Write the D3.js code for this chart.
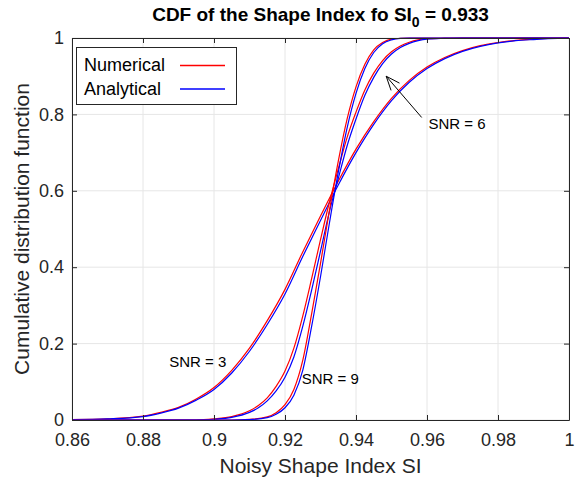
<!DOCTYPE html>
<html>
<head>
<meta charset="utf-8">
<script src="https://d3js.org/d3.v7.min.js"></script>
<style>
  body { margin: 0; background: #fff; }
  svg { display: block; }
  text { font-family: "Liberation Sans", Arial, Helvetica, sans-serif; }
</style>
</head>
<body>
<svg id="chart" width="579" height="478"></svg>
<script>
// Noisy shape index grid and CDF values for each SNR level
const siSNR3 = [0.86, 0.87, 0.88, 0.885, 0.89, 0.895, 0.90, 0.905, 0.91, 0.915, 0.92, 0.925, 0.93, 0.935,
                0.94, 0.945, 0.95, 0.955, 0.96, 0.965, 0.97, 0.975, 0.98, 0.985, 0.99, 1.0];
const analyticalSNR3 = [0.001, 0.003, 0.009, 0.018, 0.031, 0.052, 0.080, 0.123, 0.180, 0.250, 0.330, 0.428, 0.522, 0.615,
                        0.700, 0.774, 0.836, 0.884, 0.920, 0.946, 0.965, 0.978, 0.987, 0.993, 0.996, 1.0];
const numericalSNR3 = [0.001, 0.003, 0.010, 0.020, 0.033, 0.055, 0.085, 0.130, 0.188, 0.260, 0.342, 0.440, 0.534, 0.625,
                       0.709, 0.781, 0.842, 0.889, 0.924, 0.949, 0.967, 0.980, 0.988, 0.994, 0.997, 1.0];

const siSNR6 = [0.86, 0.895, 0.90, 0.905, 0.91, 0.9125, 0.915, 0.9175, 0.92, 0.9225, 0.925, 0.9275, 0.93, 0.9325,
                0.935, 0.9375, 0.94, 0.9425, 0.945, 0.9475, 0.95, 0.9525, 0.955, 0.9575, 0.96, 0.965, 0.97, 1.0];
const analyticalSNR6 = [0.0, 0.0, 0.002, 0.007, 0.020, 0.032, 0.050, 0.076, 0.112, 0.165, 0.245, 0.340, 0.442, 0.545,
                        0.632, 0.718, 0.788, 0.850, 0.897, 0.933, 0.958, 0.975, 0.986, 0.993, 0.997, 0.999, 1.0, 1.0];
const numericalSNR6 = [0.0, 0.0, 0.003, 0.009, 0.024, 0.038, 0.058, 0.088, 0.128, 0.188, 0.272, 0.370, 0.472, 0.570,
                       0.657, 0.740, 0.806, 0.864, 0.908, 0.941, 0.964, 0.979, 0.989, 0.995, 0.998, 0.999, 1.0, 1.0];

const siSNR9 = [0.86, 0.905, 0.91, 0.915, 0.9175, 0.92, 0.9225, 0.925, 0.9275, 0.93, 0.9325, 0.935, 0.9375,
                0.94, 0.9425, 0.945, 0.9475, 0.95, 0.9525, 0.955, 1.0];
const analyticalSNR9 = [0.0, 0.0, 0.001, 0.006, 0.015, 0.032, 0.065, 0.130, 0.245, 0.375, 0.515, 0.648, 0.765,
                        0.855, 0.920, 0.962, 0.985, 0.995, 0.999, 1.0, 1.0];
const numericalSNR9 = [0.0, 0.0, 0.0015, 0.008, 0.019, 0.040, 0.080, 0.156, 0.278, 0.410, 0.548, 0.677, 0.788,
                       0.872, 0.931, 0.969, 0.988, 0.997, 0.999, 1.0, 1.0];

const xTicks = [0.86, 0.88, 0.90, 0.92, 0.94, 0.96, 0.98, 1.0];
const xTickLabels = ["0.86", "0.88", "0.9", "0.92", "0.94", "0.96", "0.98", "1"];
const yTicks = [0, 0.2, 0.4, 0.6, 0.8, 1.0];
const yTickLabels = ["0", "0.2", "0.4", "0.6", "0.8", "1"];

const legendLabels = ["Numerical", "Analytical"];
const seriesColors = ["#ff0000", "#0000ff"];

const svg = d3.select("#chart");
const margin = { left: 72, right: 10, top: 38, bottom: 58 };
const W = 579, H = 478;
const innerW = W - margin.left - margin.right;
const innerH = H - margin.top - margin.bottom;

const x = d3.scaleLinear().domain([0.86, 1.0]).range([margin.left, margin.left + innerW]);
const y = d3.scaleLinear().domain([0, 1]).range([margin.top + innerH, margin.top]);

const axisColor = "#262626";
const gridColor = "#e6e6e6";

// grid
const grid = svg.append("g");
grid.selectAll("line.gx").data(xTicks).join("line")
  .attr("x1", d => x(d)).attr("x2", d => x(d))
  .attr("y1", y(0)).attr("y2", y(1))
  .attr("stroke", gridColor).attr("stroke-width", 1);
grid.selectAll("line.gy").data(yTicks).join("line")
  .attr("y1", d => y(d)).attr("y2", d => y(d))
  .attr("x1", x(0.86)).attr("x2", x(1.0))
  .attr("stroke", gridColor).attr("stroke-width", 1);

// curves: numerical (red) drawn first, analytical (blue) on top
const line = d3.line().x(d => x(d[0])).y(d => y(d[1])).curve(d3.curveMonotoneX);
const curves = [
  [siSNR3, numericalSNR3, analyticalSNR3],
  [siSNR6, numericalSNR6, analyticalSNR6],
  [siSNR9, numericalSNR9, analyticalSNR9]
];
const plot = svg.append("g");
curves.forEach(([si, num, ana]) => {
  plot.append("path").datum(d3.zip(si, num)).attr("d", line)
    .attr("fill", "none").attr("stroke", seriesColors[0]).attr("stroke-width", 1.2);
  plot.append("path").datum(d3.zip(si, ana)).attr("d", line)
    .attr("fill", "none").attr("stroke", seriesColors[1]).attr("stroke-width", 1.2);
});

// axes with inward ticks on all four sides
function styleAxis(g) {
  g.select(".domain").attr("stroke", axisColor).attr("stroke-width", 1);
  g.selectAll(".tick line").attr("stroke", axisColor);
  g.selectAll(".tick text").attr("fill", axisColor).attr("font-size", 18)
    .style("font-family", '"Liberation Sans", Arial, sans-serif');
}
svg.append("g").attr("transform", `translate(0,${y(0)})`)
  .call(d3.axisBottom(x).tickValues(xTicks).tickFormat((d, i) => xTickLabels[i])
    .tickSizeInner(-5).tickSizeOuter(0).tickPadding(13))
  .call(styleAxis);
svg.append("g").attr("transform", `translate(0,${y(1)})`)
  .call(d3.axisTop(x).tickValues(xTicks).tickFormat("").tickSizeInner(-5).tickSizeOuter(0))
  .call(styleAxis);
svg.append("g").attr("transform", `translate(${x(0.86)},0)`)
  .call(d3.axisLeft(y).tickValues(yTicks).tickFormat((d, i) => yTickLabels[i])
    .tickSizeInner(-5).tickSizeOuter(0).tickPadding(8))
  .call(styleAxis);
svg.append("g").attr("transform", `translate(${x(1.0)},0)`)
  .call(d3.axisRight(y).tickValues(yTicks).tickFormat("").tickSizeInner(-5).tickSizeOuter(0))
  .call(styleAxis);

// title with subscript
const title = svg.append("text")
  .attr("x", margin.left + innerW / 2).attr("y", 21)
  .attr("text-anchor", "middle").attr("font-size", 19).attr("font-weight", "bold").attr("fill", "#000");
title.append("tspan").text("CDF of the Shape Index fo SI");
title.append("tspan").attr("font-size", 14).attr("dy", 6).text("0");
title.append("tspan").attr("dy", -6).text(" = 0.933");

// axis labels
svg.append("text")
  .attr("x", margin.left + innerW / 2).attr("y", 473)
  .attr("text-anchor", "middle").attr("font-size", 21).attr("fill", axisColor)
  .text("Noisy Shape Index SI");
svg.append("text")
  .attr("transform", `translate(29,${margin.top + innerH / 2}) rotate(-90)`)
  .attr("text-anchor", "middle").attr("font-size", 21).attr("fill", axisColor)
  .text("Cumulative distribution function");

// legend
const legend = svg.append("g");
legend.append("rect").attr("x", 76.5).attr("y", 47.5).attr("width", 160).attr("height", 57)
  .attr("fill", "#fff").attr("stroke", axisColor).attr("stroke-width", 1);
legendLabels.forEach((lab, i) => {
  legend.append("text").attr("x", 84).attr("y", 71 + i * 23.5)
    .attr("font-size", 18).attr("fill", "#000").text(lab);
  legend.append("line").attr("x1", 180).attr("x2", 225)
    .attr("y1", 65.5 + i * 23.5).attr("y2", 65.5 + i * 23.5)
    .attr("stroke", seriesColors[i]).attr("stroke-width", 1.3);
});

// annotations
const annot = svg.append("g").attr("font-size", 15).attr("fill", "#000");
annot.append("text").attr("x", x(0.8874)).attr("y", y(0.138)).text("SNR = 3");
annot.append("text").attr("x", x(0.9247)).attr("y", y(0.094)).text("SNR = 9");
annot.append("text").attr("x", x(0.9604)).attr("y", y(0.762)).text("SNR = 6");

// arrow pointing at the SNR = 6 curve
const tail = [0.9585, 0.792], tip = [0.9485, 0.900];
annot.append("line")
  .attr("x1", x(tail[0])).attr("y1", y(tail[1]))
  .attr("x2", x(tip[0])).attr("y2", y(tip[1]))
  .attr("stroke", "#000").attr("stroke-width", 1);
const ang = Math.atan2(y(tail[1]) - y(tip[1]), x(tail[0]) - x(tip[0]));
const headLen = 15, spread = 0.38;
const headPath = d3.path();
headPath.moveTo(x(tip[0]) + headLen * Math.cos(ang - spread), y(tip[1]) + headLen * Math.sin(ang - spread));
headPath.lineTo(x(tip[0]), y(tip[1]));
headPath.lineTo(x(tip[0]) + headLen * Math.cos(ang + spread), y(tip[1]) + headLen * Math.sin(ang + spread));
annot.append("path").attr("d", headPath.toString())
  .attr("fill", "none").attr("stroke", "#000").attr("stroke-width", 1);
</script>
</body>
</html>
